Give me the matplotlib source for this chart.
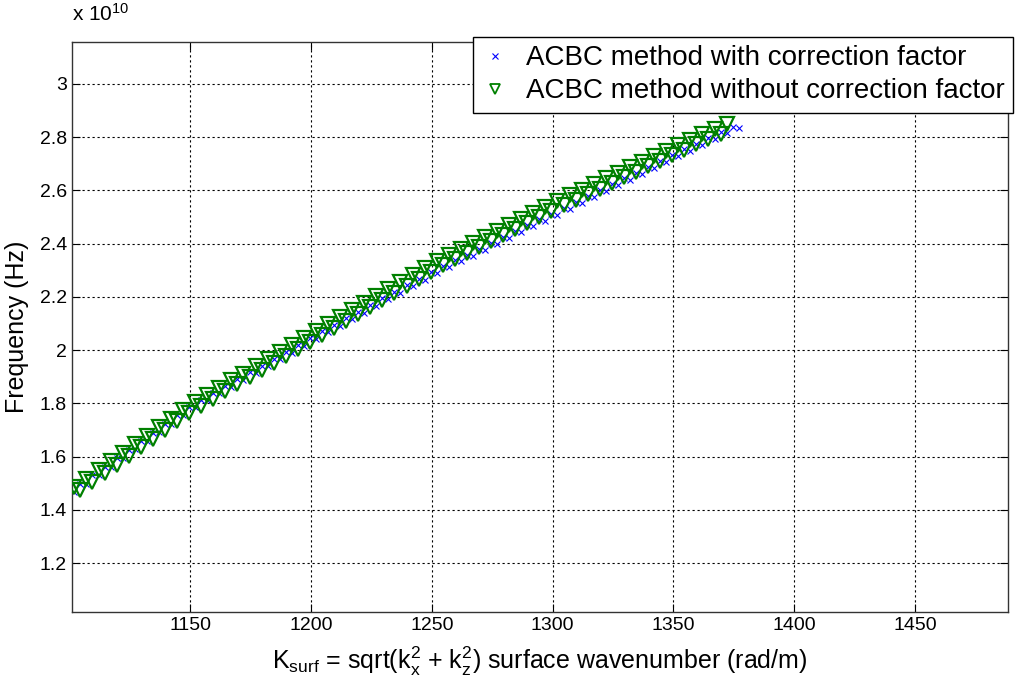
import matplotlib
matplotlib.use('Agg')
from matplotlib import pyplot as plt
from matplotlib.ticker import FuncFormatter

plt.rcParams['font.family'] = ['Liberation Sans', 'DejaVu Sans']
plt.rcParams['mathtext.fontset'] = 'custom'
plt.rcParams['mathtext.rm'] = 'Liberation Sans'
plt.rcParams['mathtext.it'] = 'Liberation Sans'

# surface wavenumber (rad/m) and frequency (x 1e10 Hz)
# each method shows a band of points -> two rows read from it
k_a = [1102, 1107, 1112, 1117, 1122, 1127, 1132, 1137, 1142, 1147,
       1152, 1157, 1162, 1167, 1172, 1177, 1182, 1187, 1192, 1197,
       1202, 1207, 1212, 1217, 1222, 1227, 1232, 1237, 1242, 1247,
       1252, 1257, 1262, 1267, 1272, 1277, 1282, 1287, 1292, 1297,
       1302, 1307, 1312, 1317, 1322, 1327, 1332, 1337, 1342, 1347,
       1352, 1357, 1362, 1367, 1372, 1377]
k_b = [1104.5, 1109.5, 1114.5, 1119.5, 1124.5, 1129.5, 1134.5, 1139.5, 1144.5, 1149.5,
       1154.5, 1159.5, 1164.5, 1169.5, 1174.5, 1179.5, 1184.5, 1189.5, 1194.5, 1199.5,
       1204.5, 1209.5, 1214.5, 1219.5, 1224.5, 1229.5, 1234.5, 1239.5, 1244.5, 1249.5,
       1254.5, 1259.5, 1264.5, 1269.5, 1274.5, 1279.5, 1284.5, 1289.5, 1294.5, 1299.5,
       1304.5, 1309.5, 1314.5, 1319.5, 1324.5, 1329.5, 1334.5, 1339.5, 1344.5, 1349.5,
       1354.5, 1359.5, 1364.5, 1369.5, 1374.5]

# without correction factor (green), upper row on k_a, lower row on k_b
f_without_a = [1.485, 1.517, 1.550, 1.582, 1.614, 1.647, 1.679, 1.711, 1.743, 1.776,
               1.806, 1.832, 1.859, 1.886, 1.912, 1.939, 1.966, 1.993, 2.019, 2.046,
               2.073, 2.099, 2.125, 2.152, 2.178, 2.204, 2.230, 2.257, 2.283, 2.309,
               2.334, 2.357, 2.380, 2.403, 2.425, 2.448, 2.471, 2.494, 2.517, 2.539,
               2.561, 2.582, 2.603, 2.624, 2.645, 2.666, 2.687, 2.708, 2.729, 2.750,
               2.771, 2.791, 2.811, 2.831, 2.851]
f_without_b = [1.473, 1.506, 1.538, 1.570, 1.603, 1.635, 1.667, 1.699, 1.732, 1.763,
               1.791, 1.818, 1.845, 1.871, 1.898, 1.925, 1.952, 1.978, 2.005, 2.032,
               2.058, 2.084, 2.111, 2.137, 2.163, 2.189, 2.216, 2.242, 2.268, 2.294,
               2.318, 2.341, 2.364, 2.386, 2.409, 2.432, 2.455, 2.478, 2.500, 2.522,
               2.544, 2.565, 2.586, 2.607, 2.628, 2.649, 2.670, 2.691, 2.712, 2.733,
               2.753, 2.773, 2.793, 2.813]

# with correction factor (blue), lower row on k_a, upper row on k_b
f_with_a = [1.465, 1.497, 1.530, 1.562, 1.594, 1.627, 1.659, 1.691, 1.723, 1.756,
            1.785, 1.811, 1.837, 1.862, 1.888, 1.914, 1.939, 1.965, 1.991, 2.017,
            2.042, 2.067, 2.092, 2.116, 2.141, 2.166, 2.191, 2.216, 2.240, 2.265,
            2.289, 2.311, 2.333, 2.355, 2.377, 2.399, 2.421, 2.443, 2.465, 2.487,
            2.509, 2.531, 2.553, 2.575, 2.597, 2.619, 2.641, 2.663, 2.685, 2.707,
            2.729, 2.750, 2.771, 2.793, 2.814, 2.835]
f_with_b = [1.496, 1.529, 1.561, 1.593, 1.626, 1.658, 1.690, 1.722, 1.755, 1.786,
            1.813, 1.839, 1.865, 1.890, 1.916, 1.942, 1.967, 1.993, 2.019, 2.045,
            2.070, 2.095, 2.119, 2.144, 2.169, 2.194, 2.219, 2.243, 2.268, 2.292,
            2.315, 2.337, 2.359, 2.381, 2.403, 2.425, 2.447, 2.469, 2.491, 2.513,
            2.535, 2.557, 2.579, 2.601, 2.623, 2.645, 2.667, 2.689, 2.711, 2.733,
            2.755, 2.776, 2.797, 2.819, 2.840]

x_ticks = [1150, 1200, 1250, 1300, 1350, 1400, 1450]
y_ticks = [1.2, 1.4, 1.6, 1.8, 2.0, 2.2, 2.4, 2.6, 2.8, 3.0]

fig = plt.figure(figsize=(10.15, 6.99), dpi=100)
ax = fig.add_axes([0.0709, 0.1245, 0.9222, 0.8155])

blue_style = dict(linestyle='none', marker='x', color='blue', markersize=5, markeredgewidth=0.8)
green_style = dict(linestyle='none', marker='v', color='green', markerfacecolor='none',
                   markersize=10, markeredgewidth=1.6)

ax.plot(k_a, f_with_a, label='ACBC method with correction factor', zorder=2, **blue_style)
ax.plot(k_b, f_with_b, zorder=2, **blue_style)
ax.plot(k_a[:len(f_without_a)], f_without_a, label='ACBC method without correction factor',
        zorder=3, **green_style)
ax.plot(k_b[:len(f_without_b)], f_without_b, zorder=3, **green_style)

ax.set_xlim(1101, 1488.5)
ax.set_ylim(1.016, 3.158)
ax.set_xticks(x_ticks)
ax.set_yticks(y_ticks)
ax.yaxis.set_major_formatter(FuncFormatter(lambda v, p: '%g' % v))
ax.tick_params(direction='in', top=True, right=True, labelsize=14, length=6, colors='black')
ax.grid(True, color='black', linestyle=(0, (2, 2.5)), linewidth=0.8)
for s in ax.spines.values():
    s.set_color('#333333')
    s.set_linewidth(1.0)

ax.text(0.0, 1.03, r'x 10$^{10}$', transform=ax.transAxes, fontsize=15, ha='left', va='bottom')

ax.set_ylabel('Frequency (Hz)', fontsize=18, labelpad=8)
ax.set_xlabel(r'K$_{\mathrm{surf}}$ = sqrt(k$_x^2$ + k$_z^2$) surface wavenumber (rad/m)',
              fontsize=18, labelpad=8)

leg = ax.legend(loc='upper right', bbox_to_anchor=(1013 / 1015, 1 - 37 / 699),
                bbox_transform=fig.transFigure, borderaxespad=0, fontsize=20,
                handlelength=1.0, handletextpad=0.6, borderpad=0.3, labelspacing=0.25,
                fancybox=False, framealpha=1, edgecolor='black')
leg.get_frame().set_linewidth(1.0)
leg.set_zorder(5)
handles = leg.legend_handles
handles[0].set_markersize(4)
handles[1].set_markersize(7)
handles[1].set_markeredgewidth(1.3)

fig.savefig('out.png', dpi=100)
